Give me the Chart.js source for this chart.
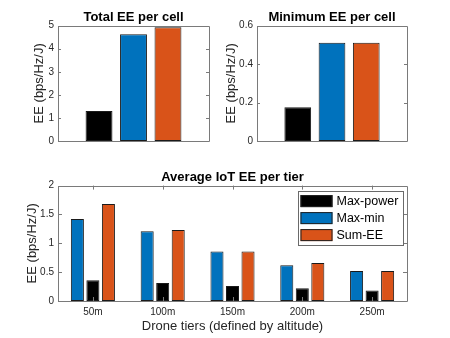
<!DOCTYPE html>
<html>
<head>
<meta charset="utf-8">
<script src="https://cdn.jsdelivr.net/npm/chart.js@4.4.0/dist/chart.umd.min.js"></script>
<style>
    html, body { margin: 0; padding: 0; background: #fff; }
    #page { position: relative; width: 450px; height: 338px; overflow: hidden; }
    canvas { position: absolute; }
</style>
</head>
<body>
<div id="page">
    <canvas id="totalChart" width="225" height="160" style="left:0;top:0"></canvas>
    <canvas id="minChart" width="240" height="160" style="left:210px;top:0"></canvas>
    <canvas id="tierChart" width="450" height="178" style="left:0;top:160px"></canvas>
</div>
<script>
// data
const schemes = ['Max-power', 'Max-min', 'Sum-EE'];
const totalEE = [1.30, 4.62, 4.93];
const minEE = [0.175, 0.511, 0.511];

const tierLabels = ['50m', '100m', '150m', '200m', '250m'];
const maxPowerTier = [0.36, 0.31, 0.26, 0.22, 0.18];
const maxMinTier = [1.42, 1.21, 0.86, 0.62, 0.52];
const sumEETier = [1.68, 1.23, 0.86, 0.66, 0.52];

const totalTicks = [0, 1, 2, 3, 4, 5];
const minTicks = [0, 0.2, 0.4, 0.6];
const tierTicks = [0, 0.5, 1, 1.5, 2];

const colors = {
    'Max-power': '#000000',
    'Max-min': '#0072BD',
    'Sum-EE': '#D95319'
};
const axisColor = '#262626';
const fontFamily = 'Liberation Sans, Arial, sans-serif';

Chart.defaults.font.family = fontFamily;
Chart.defaults.color = axisColor;

// matlab style box with inner ticks, title centred on the axes
const boxPlugin = {
    id: 'matlabBox',
    afterDraw(chart, args, opts) {
        const ctx = chart.ctx;
        const a = chart.chartArea;
        const len = opts.tickLength || 3;
        ctx.save();
        ctx.strokeStyle = '#7a7a7a';
        ctx.lineWidth = 1;
        ctx.beginPath();
        ctx.rect(Math.round(a.left) + 0.5, Math.round(a.top) + 0.5,
            Math.round(a.right - a.left), Math.round(a.bottom - a.top));
        const y = chart.scales.y;
        y.ticks.forEach(t => {
            const py = Math.round(y.getPixelForValue(t.value)) + 0.5;
            ctx.moveTo(a.left, py); ctx.lineTo(a.left + len, py);
            ctx.moveTo(a.right, py); ctx.lineTo(a.right - len, py);
        });
        if (opts.xTicks) {
            const x = chart.scales.x;
            x.ticks.forEach((t, i) => {
                const px = Math.round(x.getPixelForTick(i)) + 0.5;
                ctx.moveTo(px, a.bottom); ctx.lineTo(px, a.bottom - len);
                ctx.moveTo(px, a.top); ctx.lineTo(px, a.top + len);
            });
        }
        ctx.stroke();

        if (opts.title) {
            ctx.fillStyle = '#000';
            ctx.font = 'bold 13px ' + fontFamily;
            ctx.textAlign = 'center';
            ctx.textBaseline = 'alphabetic';
            ctx.fillText(opts.title, (a.left + a.right) / 2, a.top - 5);
        }
        ctx.restore();
    }
};

const legendPlugin = {
    id: 'boxLegend',
    afterDraw(chart, args, opts) {
        if (!opts.show) return;
        const ctx = chart.ctx;
        const a = chart.chartArea;
        const right = a.right - 5, top = a.top + 5;
        const w = 104.5, h = 53.5;
        const left = right - w;
        ctx.save();
        ctx.fillStyle = '#fff';
        ctx.fillRect(left, top, w, h);
        ctx.strokeStyle = '#6a6a6a';
        ctx.lineWidth = 1;
        ctx.strokeRect(Math.round(left) + 0.5, Math.round(top) + 0.5, Math.round(w), Math.round(h));
        ctx.font = '12.5px ' + fontFamily;
        ctx.textBaseline = 'middle';
        schemes.forEach((name, i) => {
            const cy = top + 10.5 + i * 17;
            ctx.fillStyle = colors[name];
            ctx.fillRect(left + 3, cy - 6, 32, 12);
            ctx.strokeStyle = '#222';
            ctx.strokeRect(left + 3.5, cy - 5.5, 31, 11);
            ctx.fillStyle = '#000';
            ctx.fillText(name, left + 39, cy + 0.5);
        });
        ctx.restore();
    }
};

function yAxis(ticks, label, width, titlePad) {
    return {
        min: ticks[0],
        max: ticks[ticks.length - 1],
        afterBuildTicks: function (scale) {
            scale.ticks = ticks.map(v => ({ value: v }));
        },
        afterFit: function (scale) { scale.width = width; },
        grid: { display: false, drawTicks: false },
        border: { display: false },
        ticks: {
            font: { size: 10 },
            padding: 4,
            color: axisColor,
            callback: v => String(Number(v))
        },
        title: {
            display: true,
            text: label,
            font: { size: 13 },
            color: axisColor,
            padding: { top: titlePad, bottom: 0 }
        }
    };
}

function cellChart(id, title, values, ticks, width, titlePad, rightPad) {
    return new Chart(document.getElementById(id), {
        type: 'bar',
        data: {
            labels: [''],
            datasets: schemes.map((name, i) => ({
                label: name,
                data: [values[i]],
                backgroundColor: colors[name],
                borderColor: '#1a1a1a',
                borderWidth: 1,
                borderSkipped: false,
                categoryPercentage: 0.685,
                barPercentage: 0.78
            }))
        },
        options: {
            responsive: false,
            devicePixelRatio: 1,
            animation: false,
            layout: { padding: { left: 0, right: rightPad, top: 25.6, bottom: 0 } },
            plugins: {
                legend: { display: false },
                tooltip: { enabled: false },
                title: { display: false },
                matlabBox: { tickLength: 3, title: title },
                boxLegend: { show: false }
            },
            scales: {
                x: {
                    afterFit: function (scale) { scale.height = 19; },
                    grid: { display: false },
                    border: { display: false },
                    ticks: { display: false }
                },
                y: yAxis(ticks, 'EE (bps/Hz/J)', width, titlePad)
            }
        },
        plugins: [boxPlugin, legendPlugin]
    });
}

cellChart('totalChart', 'Total EE per cell', totalEE, totalTicks, 58, 32, 16);
cellChart('minChart', 'Minimum EE per cell', minEE, minTicks, 47, 14, 43);

// bars are placed max-min, max-power, sum-ee inside each tier
const tierSeries = [
    { name: 'Max-min', data: maxMinTier },
    { name: 'Max-power', data: maxPowerTier },
    { name: 'Sum-EE', data: sumEETier }
];

new Chart(document.getElementById('tierChart'), {
    type: 'bar',
    data: {
        labels: tierLabels,
        datasets: tierSeries.map(s => ({
            label: s.name,
            data: s.data,
            backgroundColor: colors[s.name],
            borderColor: '#1a1a1a',
            borderWidth: 1,
            borderSkipped: false,
            categoryPercentage: 0.667,
            barPercentage: 0.84
        }))
    },
    options: {
        responsive: false,
        devicePixelRatio: 1,
        animation: false,
        layout: { padding: { left: 0, right: 43, top: 25.6, bottom: 0 } },
        plugins: {
            legend: { display: false },
            tooltip: { enabled: false },
            title: { display: false },
            matlabBox: { tickLength: 4, xTicks: true, title: 'Average IoT EE per tier' },
            boxLegend: { show: true }
        },
        scales: {
            x: {
                afterFit: function (scale) { scale.height = 37; },
                grid: { display: false, drawTicks: false },
                border: { display: false },
                ticks: { font: { size: 10 }, padding: 5, color: axisColor, maxRotation: 0 },
                title: {
                    display: true,
                    text: 'Drone tiers (defined by altitude)',
                    font: { size: 13 },
                    color: axisColor,
                    padding: { top: 0, bottom: 3.5 }
                }
            },
            y: yAxis(tierTicks, 'EE (bps/Hz/J)', 58, 25)
        }
    },
    plugins: [boxPlugin, legendPlugin]
});
</script>
</body>
</html>
